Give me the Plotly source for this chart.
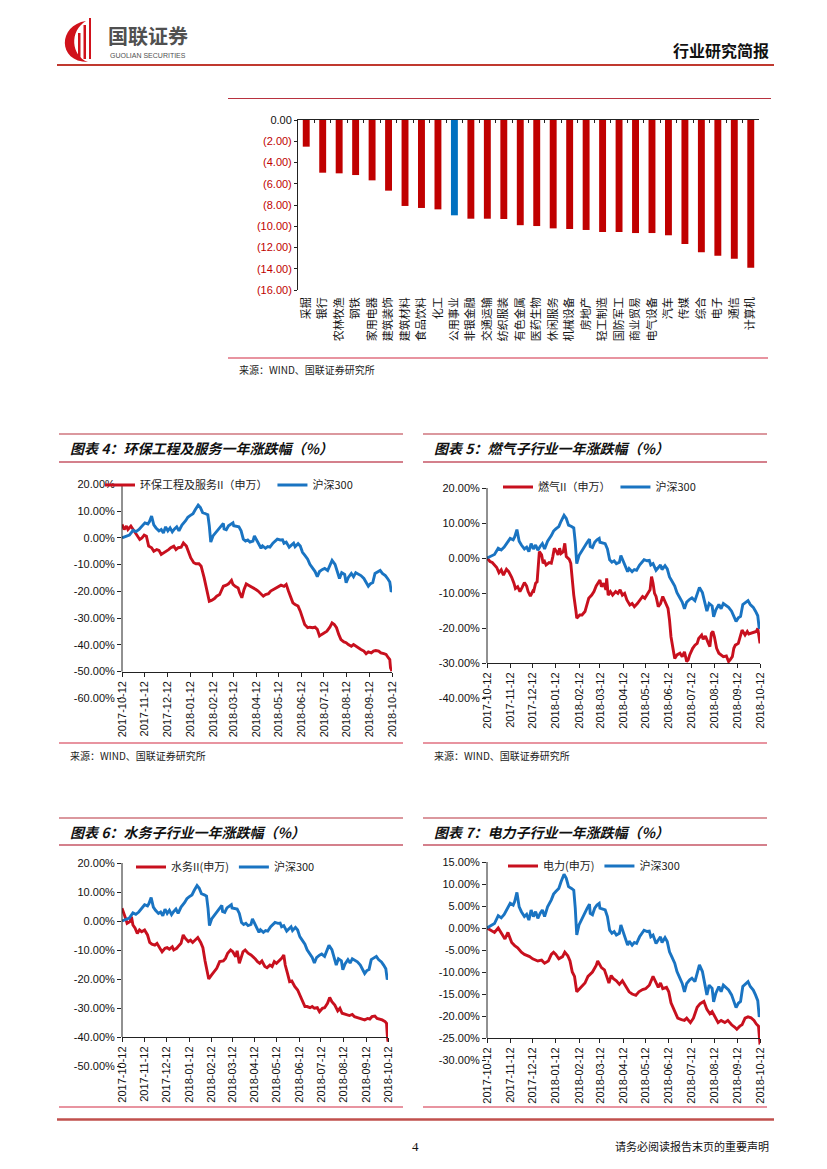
import plotly.graph_objects as go

W, H = 827, 1169
CJK = "Noto Sans CJK SC"
NUM = "Liberation Sans, Noto Sans CJK SC"
RED = "#C00000"
BLUE = "#0070C0"
LRED = "#C8101E"
LBLUE = "#1A74C2"

# ---------------- data: industry one-year change (bar chart) ----------------
IND_NAMES = ["采掘", "银行", "农林牧渔", "钢铁", "家用电器", "建筑装饰", "建筑材料", "食品饮料",
             "化工", "公用事业", "非银金融", "交通运输", "纺织服装", "有色金属", "医药生物", "休闲服务",
             "机械设备", "房地产", "轻工制造", "国防军工", "商业贸易", "电气设备", "汽车", "传媒",
             "综合", "电子", "通信", "计算机"]
IND_CHG = [-2.51, -4.96, -5.02, -5.18, -5.68, -6.65, -8.09, -8.28,
           -8.41, -8.97, -9.29, -9.29, -9.32, -9.90, -9.98, -10.20,
           -10.26, -10.35, -10.54, -10.54, -10.64, -10.64, -10.85, -11.67,
           -12.45, -12.77, -13.05, -13.90]
HIGHLIGHT = "公用事业"
BAR_TICKS = [0, -2, -4, -6, -8, -10, -12, -14, -16]

# ---------------- data: 沪深300 ----------------
HS300_DATES = (
    ["2017-10-12", "2017-10-18", "2017-10-22", "2017-10-27", "2017-10-31"] +
    ["2017-11-04", "2017-11-09", "2017-11-12", "2017-11-16", "2017-11-18", "2017-11-21", "2017-11-24", "2017-11-27"] +
    ["2017-12-01", "2017-12-04", "2017-12-07", "2017-12-10", "2017-12-13", "2017-12-16", "2017-12-19", "2017-12-22", "2017-12-25", "2017-12-28"] +
    ["2018-01-01", "2018-01-06", "2018-01-09", "2018-01-12", "2018-01-16", "2018-01-19", "2018-01-23", "2018-01-26", "2018-01-29"] +
    ["2018-02-02", "2018-02-05", "2018-02-07", "2018-02-09", "2018-02-12", "2018-02-15", "2018-02-20", "2018-02-23", "2018-02-26", "2018-02-27"] +
    ["2018-03-02", "2018-03-05", "2018-03-08", "2018-03-11", "2018-03-12", "2018-03-16", "2018-03-19", "2018-03-22", "2018-03-25", "2018-03-28", "2018-03-31"] +
    ["2018-04-03", "2018-04-07", "2018-04-09", "2018-04-12", "2018-04-16", "2018-04-18", "2018-04-20", "2018-04-24", "2018-04-27", "2018-04-30"] +
    ["2018-05-04", "2018-05-07", "2018-05-10", "2018-05-14", "2018-05-17", "2018-05-19", "2018-05-22", "2018-05-26", "2018-05-29"] +
    ["2018-06-01", "2018-06-03", "2018-06-07", "2018-06-10", "2018-06-13", "2018-06-16", "2018-06-20", "2018-06-23", "2018-06-26", "2018-06-30"] +
    ["2018-07-03", "2018-07-06", "2018-07-10", "2018-07-13", "2018-07-17", "2018-07-20", "2018-07-23", "2018-07-27", "2018-07-30"] +
    ["2018-08-02", "2018-08-05", "2018-08-09", "2018-08-11", "2018-08-14", "2018-08-18", "2018-08-21", "2018-08-24", "2018-08-28", "2018-08-31"] +
    ["2018-09-04", "2018-09-07", "2018-09-10", "2018-09-13", "2018-09-16", "2018-09-19", "2018-09-23", "2018-09-26", "2018-09-29"] +
    ["2018-10-03", "2018-10-06", "2018-10-09", "2018-10-11", "2018-10-12"])
HS300_VAL = (
    [0, 0.5, 1.0, 2.8, 2.3] +
    [3.1, 4.5, 5.6, 5.2, 6.0, 8.1, 4.8, 3.7] +
    [2.6, 3.1, 1.8, 4.1, 2.6, 3.7, 2.2, 3.3, 4.1, 2.6] +
    [4.8, 6.4, 7.7, 8.3, 9.0, 10.5, 12.2, 11.3, 9.4] +
    [9.0, 8.6, 4.5, -1.6, 0.7, 1.8, 3.3, 4.5, 5.4, 3.3] +
    [3.0, 4.5, 5.2, 5.6, 4.5, 4.3, 4.1, 2.6, -0.5, -1.2, -0.8] +
    [-1.6, -1.2, 0.7, -0.8, -2.7, -3.9, -3.0, -3.9, -3.3, -3.5] +
    [-2.0, -1.2, -0.5, -0.8, -0.7, -2.0, -1.6, -3.5, -2.7] +
    [-2.0, -3.3, -2.2, -3.1, -5.4, -6.5, -8.0, -9.9, -11.1, -12.6] +
    [-14.5, -12.6, -11.8, -11.4, -12.2, -10.3, -8.4, -9.9, -12.6] +
    [-15.2, -13.0, -13.7, -16.8, -14.8, -13.3, -14.5, -13.0, -13.7, -14.1] +
    [-15.2, -16.7, -18.1, -17.1, -16.7, -13.3, -12.6, -12.2, -13.3] +
    [-14.1, -15.2, -16.5, -20.2, -19.6])

# ---------------- data: 环保工程及服务II ----------------
HB_DATES = (
    ["2017-10-12", "2017-10-15", "2017-10-18", "2017-10-20", "2017-10-24", "2017-10-27", "2017-10-30"] +
    ["2017-11-02", "2017-11-05", "2017-11-08", "2017-11-11", "2017-11-14", "2017-11-17", "2017-11-21", "2017-11-24", "2017-11-28"] +
    ["2017-12-01", "2017-12-04", "2017-12-08", "2017-12-11", "2017-12-14", "2017-12-17", "2017-12-21", "2017-12-24", "2017-12-27", "2017-12-31"] +
    ["2018-01-03", "2018-01-07", "2018-01-10", "2018-01-13", "2018-01-17", "2018-01-20", "2018-01-24", "2018-01-27", "2018-01-31"] +
    ["2018-02-03", "2018-02-05", "2018-02-07", "2018-02-10", "2018-02-14", "2018-02-17", "2018-02-21", "2018-02-24", "2018-02-26"] +
    ["2018-03-02", "2018-03-05", "2018-03-09", "2018-03-11", "2018-03-14", "2018-03-18", "2018-03-20", "2018-03-23", "2018-03-26", "2018-03-29"] +
    ["2018-04-01", "2018-04-04", "2018-04-08", "2018-04-11", "2018-04-14", "2018-04-18", "2018-04-21", "2018-04-24", "2018-04-28"] +
    ["2018-05-01", "2018-05-05", "2018-05-08", "2018-05-11", "2018-05-15", "2018-05-19", "2018-05-22", "2018-05-25", "2018-05-28", "2018-05-31"] +
    ["2018-06-03", "2018-06-07", "2018-06-10", "2018-06-13", "2018-06-16", "2018-06-20", "2018-06-23", "2018-06-27", "2018-06-30"] +
    ["2018-07-03", "2018-07-06", "2018-07-09", "2018-07-13", "2018-07-16", "2018-07-20", "2018-07-23", "2018-07-26", "2018-07-29"] +
    ["2018-08-01", "2018-08-04", "2018-08-08", "2018-08-11", "2018-08-14", "2018-08-18", "2018-08-21", "2018-08-24", "2018-08-28", "2018-08-31"] +
    ["2018-09-04", "2018-09-07", "2018-09-10", "2018-09-14", "2018-09-17", "2018-09-20", "2018-09-24", "2018-09-27"] +
    ["2018-10-01", "2018-10-04", "2018-10-07", "2018-10-09", "2018-10-10", "2018-10-12"])
HB_VAL = (
    [5.0, 3.1, 4.4, 3.1, 4.4, 3.1, 1.9] +
    [0.6, -0.6, 0.0, 1.0, 0.6, -3.1, -3.7, -5.0, -4.4] +
    [-4.7, -6.2, -5.6, -5.0, -4.4, -3.7, -3.1, -4.4, -3.7, -3.5] +
    [-1.9, -3.1, -5.0, -7.5, -9.3, -9.7, -9.7, -10.6, -14.9] +
    [-18.7, -21.8, -23.7, -23.4, -22.7, -21.8, -21.2, -19.3, -18.1] +
    [-17.7, -17.2, -15.9, -17.4, -18.1, -18.7, -20.5, -22.4, -19.3, -17.2] +
    [-17.7, -18.1, -18.7, -19.3, -19.9, -21.2, -21.8, -21.2, -20.9] +
    [-19.9, -19.3, -18.7, -18.1, -17.7, -18.1, -17.4, -19.9, -21.8, -24.3] +
    [-24.9, -25.5, -27.4, -29.9, -32.4, -33.6, -33.4, -33.6, -33.4] +
    [-34.2, -36.7, -36.1, -35.5, -34.9, -33.4, -31.8, -32.4, -33.6] +
    [-36.1, -38.0, -38.9, -39.2, -39.9, -40.5, -39.9, -40.5, -41.1, -41.7] +
    [-42.3, -43.3, -42.6, -43.0, -42.3, -42.1, -42.3, -43.0] +
    [-43.3, -43.6, -44.8, -45.5, -48.6, -49.8])

# ---------------- data: 燃气II ----------------
RQ_DATES = (
    ["2017-10-12", "2017-10-16", "2017-10-19", "2017-10-22", "2017-10-25", "2017-10-28", "2017-10-31"] +
    ["2017-11-03", "2017-11-07", "2017-11-10", "2017-11-14", "2017-11-17", "2017-11-19", "2017-11-22", "2017-11-25", "2017-11-28"] +
    ["2017-12-01", "2017-12-04", "2017-12-06", "2017-12-09", "2017-12-12", "2017-12-13", "2017-12-16", "2017-12-18", "2017-12-19",
     "2017-12-21", "2017-12-24", "2017-12-26", "2017-12-28", "2017-12-30"] +
    ["2018-01-03", "2018-01-06", "2018-01-08", "2018-01-10", "2018-01-13", "2018-01-15", "2018-01-17", "2018-01-19", "2018-01-22",
     "2018-01-24", "2018-01-26", "2018-01-30"] +
    ["2018-02-01", "2018-02-03", "2018-02-05", "2018-02-08", "2018-02-09", "2018-02-13", "2018-02-16", "2018-02-20", "2018-02-22", "2018-02-25"] +
    ["2018-03-01", "2018-03-04", "2018-03-07", "2018-03-09", "2018-03-12", "2018-03-14", "2018-03-17", "2018-03-20", "2018-03-21",
     "2018-03-23", "2018-03-26", "2018-03-29"] +
    ["2018-04-02", "2018-04-05", "2018-04-08", "2018-04-11", "2018-04-14", "2018-04-17", "2018-04-21", "2018-04-24", "2018-04-27"] +
    ["2018-05-01", "2018-05-04", "2018-05-08", "2018-05-11", "2018-05-14", "2018-05-18", "2018-05-20", "2018-05-22", "2018-05-24",
     "2018-05-26", "2018-05-29"] +
    ["2018-06-01", "2018-06-04", "2018-06-08", "2018-06-11", "2018-06-13", "2018-06-15", "2018-06-18", "2018-06-20", "2018-06-23",
     "2018-06-27", "2018-06-30"] +
    ["2018-07-03", "2018-07-06", "2018-07-08", "2018-07-10", "2018-07-14", "2018-07-17", "2018-07-20", "2018-07-22", "2018-07-26",
     "2018-07-28", "2018-07-31"] +
    ["2018-08-04", "2018-08-06", "2018-08-08", "2018-08-10", "2018-08-12", "2018-08-15", "2018-08-18", "2018-08-21", "2018-08-24",
     "2018-08-28", "2018-08-31"] +
    ["2018-09-02", "2018-09-05", "2018-09-07", "2018-09-09", "2018-09-13", "2018-09-15", "2018-09-18", "2018-09-22", "2018-09-25",
     "2018-09-27", "2018-09-30"] +
    ["2018-10-04", "2018-10-07", "2018-10-09", "2018-10-11", "2018-10-12"])
RQ_VAL = (
    [0, -1.0, -1.3, -2.0, -2.7, -4.2, -3.4] +
    [-4.9, -3.2, -3.9, -5.5, -7.2, -8.7, -8.2, -9.6, -8.4] +
    [-7.0, -8.0, -9.6, -10.9, -9.6, -9.9, -7.2, -6.8, -4.4, 1.8, 0.9, -1.5, -1.0, -2.0] +
    [-1.3, -1.5, 0.4, 2.8, 1.8, 0.9, 2.8, 1.3, 1.8, 4.2, 0.4, -0.4] +
    [-1.5, -6.3, -10.6, -15.3, -17.2, -16.3, -16.3, -15.3, -13.4, -11.5] +
    [-10.6, -9.6, -8.0, -7.2, -6.3, -8.2, -7.2, -9.1, -5.8, -10.6, -9.6, -10.6] +
    [-9.6, -10.1, -9.1, -10.6, -10.1, -12.0, -13.4, -13.0, -13.9] +
    [-13.0, -12.0, -11.0, -11.5, -10.6, -9.1, -5.3, -7.2, -10.1, -11.0, -13.9] +
    [-13.0, -11.0, -13.0, -14.4, -17.7, -22.5, -26.3, -28.7, -27.7, -27.2, -28.2] +
    [-26.8, -29.6, -29.1, -27.7, -25.8, -24.9, -24.4, -23.0, -22.0, -23.2, -22.3] +
    [-24.4, -25.3, -21.5, -21.0, -22.5, -25.8, -27.2, -27.7, -28.2, -28.0, -29.6] +
    [-29.1, -28.2, -25.8, -24.9, -24.4, -22.5, -20.6, -22.0, -21.0, -21.7, -21.5] +
    [-21.3, -21.0, -20.1, -22.5, -24.4])

# ---------------- data: 水务II ----------------
SW_DATES = (
    ["2017-10-12", "2017-10-15", "2017-10-17", "2017-10-19", "2017-10-23", "2017-10-25", "2017-10-27", "2017-10-30"] +
    ["2017-11-02", "2017-11-05", "2017-11-08", "2017-11-12", "2017-11-16", "2017-11-19", "2017-11-22", "2017-11-26", "2017-11-29"] +
    ["2017-12-03", "2017-12-06", "2017-12-10", "2017-12-13", "2017-12-16", "2017-12-20", "2017-12-22", "2017-12-26", "2017-12-29"] +
    ["2018-01-01", "2018-01-04", "2018-01-07", "2018-01-11", "2018-01-14", "2018-01-17", "2018-01-21", "2018-01-24", "2018-01-28", "2018-01-31"] +
    ["2018-02-03", "2018-02-06", "2018-02-08", "2018-02-12", "2018-02-15", "2018-02-19", "2018-02-23", "2018-02-28"] +
    ["2018-03-03", "2018-03-06", "2018-03-10", "2018-03-13", "2018-03-17", "2018-03-19", "2018-03-22", "2018-03-25", "2018-03-27", "2018-03-30"] +
    ["2018-04-03", "2018-04-07", "2018-04-10", "2018-04-13", "2018-04-16", "2018-04-19", "2018-04-22", "2018-04-26", "2018-04-29"] +
    ["2018-05-03", "2018-05-06", "2018-05-09", "2018-05-12", "2018-05-15", "2018-05-19", "2018-05-22", "2018-05-24", "2018-05-27", "2018-05-30"] +
    ["2018-06-02", "2018-06-06", "2018-06-10", "2018-06-13", "2018-06-16", "2018-06-20", "2018-06-23", "2018-06-27", "2018-06-30"] +
    ["2018-07-03", "2018-07-07", "2018-07-10", "2018-07-14", "2018-07-17", "2018-07-21", "2018-07-24", "2018-07-27", "2018-07-31"] +
    ["2018-08-04", "2018-08-07", "2018-08-10", "2018-08-14", "2018-08-17", "2018-08-20", "2018-08-24", "2018-08-27", "2018-08-31"] +
    ["2018-09-03", "2018-09-06", "2018-09-10", "2018-09-14", "2018-09-17", "2018-09-20", "2018-09-24", "2018-09-27"] +
    ["2018-10-01", "2018-10-04", "2018-10-08", "2018-10-10", "2018-10-11", "2018-10-12"])
SW_VAL = (
    [4.4, 2.6, 0.9, -0.8, -0.2, 1.5, -1.4, -2.5] +
    [-4.3, -3.1, -3.7, -3.1, -4.8, -7.4, -8.0, -8.3, -7.7] +
    [-9.4, -10.6, -9.4, -9.2, -9.7, -8.9, -10.0, -9.4, -8.5] +
    [-7.7, -4.8, -6.0, -7.1, -6.6, -7.4, -6.6, -5.7, -7.4, -9.2] +
    [-13.8, -16.9, -20.0, -18.6, -17.5, -16.3, -14.0, -13.8] +
    [-12.9, -11.1, -10.0, -10.6, -12.3, -10.3, -14.6, -11.7, -10.6, -10.0] +
    [-11.1, -11.7, -12.3, -13.1, -14.0, -14.6, -13.8, -15.7, -16.1] +
    [-15.2, -15.7, -14.0, -14.6, -14.0, -12.9, -11.7, -15.2, -18.0, -20.9] +
    [-20.7, -22.6, -23.8, -25.5, -27.2, -29.5, -29.5, -29.9, -29.5] +
    [-30.1, -29.9, -31.3, -30.1, -29.9, -28.4, -26.4, -27.8, -29.0] +
    [-31.0, -30.1, -31.8, -32.2, -32.4, -32.6, -32.2, -33.0, -33.3] +
    [-33.6, -33.8, -34.1, -33.6, -33.8, -33.0, -32.8, -33.6] +
    [-33.8, -34.1, -34.7, -35.3, -39.3, -41.6])

# ---------------- data: 电力 ----------------
DL_DATES = (
    ["2017-10-12", "2017-10-22", "2017-10-27", "2017-10-31"] +
    ["2017-11-05", "2017-11-09", "2017-11-14", "2017-11-18", "2017-11-22", "2017-11-27"] +
    ["2017-12-01", "2017-12-08", "2017-12-12", "2017-12-19", "2017-12-24", "2017-12-28"] +
    ["2018-01-02", "2018-01-06", "2018-01-09", "2018-01-12", "2018-01-16", "2018-01-21", "2018-01-24", "2018-01-28", "2018-01-31"] +
    ["2018-02-03", "2018-02-06", "2018-02-09", "2018-02-14", "2018-02-20", "2018-02-24"] +
    ["2018-03-02", "2018-03-07", "2018-03-09", "2018-03-14", "2018-03-18", "2018-03-21", "2018-03-24", "2018-03-27", "2018-03-30"] +
    ["2018-04-03", "2018-04-07", "2018-04-11", "2018-04-15", "2018-04-20", "2018-04-24", "2018-04-29"] +
    ["2018-05-03", "2018-05-08", "2018-05-12", "2018-05-17", "2018-05-22", "2018-05-25", "2018-05-29"] +
    ["2018-06-01", "2018-06-04", "2018-06-09", "2018-06-12", "2018-06-15", "2018-06-20", "2018-06-24", "2018-06-29"] +
    ["2018-07-03", "2018-07-06", "2018-07-11", "2018-07-15", "2018-07-20", "2018-07-24", "2018-07-29"] +
    ["2018-08-02", "2018-08-06", "2018-08-09", "2018-08-12", "2018-08-17", "2018-08-21", "2018-08-26", "2018-08-30"] +
    ["2018-09-04", "2018-09-08", "2018-09-11", "2018-09-15", "2018-09-18", "2018-09-22", "2018-09-26", "2018-09-30"] +
    ["2018-10-04", "2018-10-07", "2018-10-10", "2018-10-12"])
DL_VAL = (
    [0, -1.0, 0.0, -1.0] +
    [-2.5, -1.0, -3.3, -4.0, -4.5, -5.5] +
    [-6.0, -6.5, -7.0, -7.5, -7.3, -8.0] +
    [-7.5, -6.0, -5.5, -6.0, -7.0, -6.5, -5.5, -6.3, -7.5] +
    [-10.0, -11.0, -14.5, -13.5, -12.5, -11.0] +
    [-10.0, -8.5, -7.5, -9.0, -9.5, -11.0, -12.5, -10.8, -11.5] +
    [-12.0, -12.8, -12.0, -13.0, -14.5, -15.0, -15.3] +
    [-14.5, -14.0, -13.8, -13.0, -11.0, -12.0, -13.5] +
    [-12.5, -13.8, -13.5, -14.5, -17.0, -19.0, -20.5, -20.8] +
    [-21.0, -20.5, -21.5, -20.5, -18.0, -17.2, -16.7] +
    [-18.5, -19.5, -19.0, -20.0, -21.5, -21.0, -21.5, -21.0] +
    [-22.0, -22.5, -23.0, -22.3, -22.0, -20.5, -20.2, -20.4] +
    [-21.0, -21.8, -22.3, -26.5])

DATE_START, DATE_END = "2017-10-12", "2018-10-12"
P4_TICKS = [20, 10, 0, -10, -20, -30, -40, -50, -60]
P5_TICKS = [20, 10, 0, -10, -20, -30, -40]
P6_TICKS = [20, 10, 0, -10, -20, -30, -40, -50]
P7_TICKS = [15, 10, 5, 0, -5, -10, -15, -20, -25, -30]


def fx(px):
    return px / W


def fy(py):
    return 1 - py / H


PANELS = [
    dict(dates=HB_DATES, vals=HB_VAL, name="环保工程及服务II（申万）", ticks=P4_TICKS, cross=-50,
         xd=(122, 392), yd=(484.3, 698.4), leg=(100, 485),
         title="图表 4：环保工程及服务一年涨跌幅（%）", frame=(59, 403), ty=(434, 448, 462), bottom=743, src=755),
    dict(dates=RQ_DATES, vals=RQ_VAL, name="燃气II（申万）", ticks=P5_TICKS, cross=-30,
         xd=(487, 760), yd=(488, 698), leg=(498, 487),
         title="图表 5：燃气子行业一年涨跌幅（%）", frame=(423, 767), ty=(434, 448, 462), bottom=743, src=755),
    dict(dates=SW_DATES, vals=SW_VAL, name="水务II(申万)", ticks=P6_TICKS, cross=-40,
         xd=(122, 388), yd=(863, 1066), leg=(131, 867),
         title="图表 6：水务子行业一年涨跌幅（%）", frame=(59, 403), ty=(818, 832, 845), bottom=1107, src=None),
    dict(dates=DL_DATES, vals=DL_VAL, name="电力(申万)", ticks=P7_TICKS, cross=-25,
         xd=(487, 760), yd=(862, 1060), leg=(503, 866),
         title="图表 7：电力子行业一年涨跌幅（%）", frame=(423, 767), ty=(818, 832, 845), bottom=1107, src=None),
]

fig = go.Figure()
layout = {}
shapes = []
annotations = []

# ---------------- bar chart ----------------
bar_colors = [BLUE if n == HIGHLIGHT else RED for n in IND_NAMES]
fig.add_trace(go.Bar(x=IND_NAMES, y=IND_CHG, marker=dict(color=bar_colors, line_width=0), width=0.42,
                     xaxis="x", yaxis="y", showlegend=False))
fig.add_trace(go.Bar(x=IND_NAMES, y=IND_CHG, marker=dict(color="rgba(0,0,0,0)", line_width=0), width=0.42,
                     xaxis="x2", yaxis="y", showlegend=False, hoverinfo="skip"))

bar_ticktext = ["0.00" if v == 0 else f"<span style='color:{RED}'>({abs(v):.2f})</span>" for v in BAR_TICKS]
bx = [fx(298), fx(759)]
layout["xaxis"] = dict(domain=bx, anchor="y", type="category", tickangle=-90, showline=False, ticks="",
                       showgrid=False, zeroline=False, automargin=False, ticklabelstandoff=4,
                       tickfont=dict(family=CJK, size=11, color="#111"))
layout["xaxis2"] = dict(overlaying="x", side="top", anchor="y", type="category", showline=True, linecolor="#222",
                        linewidth=1, ticks="inside", tickson="boundaries", ticklen=3, tickcolor="#222",
                        showticklabels=False, showgrid=False, zeroline=False, automargin=False)
layout["yaxis"] = dict(domain=[fy(290), fy(120)], anchor="x", range=[-16, 0], tickvals=BAR_TICKS,
                       ticktext=bar_ticktext, showline=True, linecolor="#222", linewidth=1, ticks="outside",
                       ticklen=3, tickcolor="#222", showgrid=False, zeroline=False, automargin=False,
                       tickfont=dict(family=NUM, size=11, color="#111"))

# ---------------- line charts ----------------
for i, p in enumerate(PANELS):
    n = i + 3
    xa, ya = f"x{n}", f"y{n}"
    leg_id = "legend" if i == 0 else f"legend{i + 1}"
    fig.add_trace(go.Scatter(x=p["dates"], y=p["vals"], name=p["name"], mode="lines",
                             line=dict(color=LRED, width=2.9), xaxis=xa, yaxis=ya, legend=leg_id))
    fig.add_trace(go.Scatter(x=HS300_DATES, y=HS300_VAL, name="沪深300", mode="lines",
                             line=dict(color=LBLUE, width=2.9), xaxis=xa, yaxis=ya, legend=leg_id))
    y0, y1 = min(p["ticks"]), max(p["ticks"])
    ydom = [fy(p["yd"][1]), fy(p["yd"][0])]
    pos = ydom[0] + (p["cross"] - y0) / (y1 - y0) * (ydom[1] - ydom[0])
    layout[f"xaxis{n}"] = dict(domain=[fx(p["xd"][0]), fx(p["xd"][1])], anchor="free", position=pos,
                               type="date", range=[DATE_START, DATE_END], tick0=DATE_START, dtick="M1",
                               tickformat="%Y-%m-%d", tickangle=-90, showline=True, linecolor="#222",
                               linewidth=1, ticks="outside", ticklen=4, tickcolor="#222", showgrid=False,
                               zeroline=False, automargin=False,
                               tickfont=dict(family=NUM, size=11, color="#111"))
    layout[f"yaxis{n}"] = dict(domain=ydom, anchor=xa, range=[y0, y1], tickvals=p["ticks"],
                               ticktext=[f"{v:.2f}%" for v in p["ticks"]], showline=False, ticks="outside",
                               ticklen=4, tickcolor="#222", showgrid=False, zeroline=False, automargin=False,
                               tickfont=dict(family=NUM, size=11, color="#111"))
    shapes.append(dict(type="line", xref=f"{xa} domain", x0=0, x1=0, yref=ya, y0=p["cross"], y1=y1,
                       line=dict(color="#222", width=1)))
    layout[leg_id] = dict(orientation="h", x=fx(p["leg"][0]), y=fy(p["leg"][1]), xanchor="left",
                          yanchor="middle", font=dict(family=CJK, size=11, color="#222"),
                          bgcolor="rgba(0,0,0,0)", borderwidth=0, itemwidth=30, tracegroupgap=0)
    # frame lines and texts
    fa, fb = p["frame"]
    shapes.append(dict(type="line", xref="paper", yref="paper", x0=fx(fa), x1=fx(fb), y0=fy(p["ty"][0]),
                       y1=fy(p["ty"][0]), line=dict(color="#B8323F", width=1.2)))
    shapes.append(dict(type="line", xref="paper", yref="paper", x0=fx(fa), x1=fx(fb), y0=fy(p["ty"][2]),
                       y1=fy(p["ty"][2]), line=dict(color="#D4808C", width=2)))
    shapes.append(dict(type="line", xref="paper", yref="paper", x0=fx(fa), x1=fx(fb), y0=fy(p["bottom"]),
                       y1=fy(p["bottom"]), line=dict(color="#E07080", width=1.5)))
    annotations.append(dict(xref="paper", yref="paper", x=fx(fa + 9), y=fy(p["ty"][1]), xanchor="left",
                            yanchor="middle", showarrow=False, text=f"<b><i>{p['title']}</i></b>",
                            font=dict(family=CJK, size=14, color="#111")))
    if p["src"]:
        annotations.append(dict(xref="paper", yref="paper", x=fx(fa + 9), y=fy(p["src"]), xanchor="left",
                                yanchor="middle", showarrow=False, text="来源：WIND、国联证券研究所",
                                font=dict(family=CJK, size=10, color="#222")))

# ---------------- page decoration ----------------
shapes += [
    dict(type="line", xref="paper", yref="paper", x0=fx(57), x1=fx(774), y0=fy(65), y1=fy(65),
         line=dict(color="#C0392F", width=2.2)),
    dict(type="line", xref="paper", yref="paper", x0=fx(228), x1=fx(771), y0=fy(98.5), y1=fy(98.5),
         line=dict(color="#B8323F", width=1.2)),
    dict(type="line", xref="paper", yref="paper", x0=fx(228), x1=fx(768), y0=fy(358), y1=fy(358),
         line=dict(color="#E07080", width=1.5)),
    dict(type="line", xref="paper", yref="paper", x0=fx(57), x1=fx(774), y0=fy(1119.5), y1=fy(1119.5),
         line=dict(color="#C0504D", width=2.6)),
]
crescent = (f"M {fx(86)},{fy(21)} C {fx(58)},{fy(25)} {fx(57)},{fy(62)} {fx(88)},{fy(62)} "
            f"C {fx(71)},{fy(56)} {fx(69)},{fy(31)} {fx(86)},{fy(21)} Z")
shapes += [
    dict(type="path", xref="paper", yref="paper", path=crescent, fillcolor="#D0121B", line=dict(width=0)),
    dict(type="rect", xref="paper", yref="paper", x0=fx(78), x1=fx(80.5), y0=fy(58), y1=fy(33),
         fillcolor="#D0121B", line=dict(width=0)),
    dict(type="rect", xref="paper", yref="paper", x0=fx(83.5), x1=fx(86), y0=fy(59), y1=fy(25),
         fillcolor="#D0121B", line=dict(width=0)),
    dict(type="rect", xref="paper", yref="paper", x0=fx(89), x1=fx(91), y0=fy(59), y1=fy(18),
         fillcolor="#D0121B", line=dict(width=0)),
]
annotations += [
    dict(xref="paper", yref="paper", x=fx(106), y=fy(36), xanchor="left", yanchor="middle", showarrow=False,
         text="<b>国联证券</b>", font=dict(family=CJK, size=20, color="#505050")),
    dict(xref="paper", yref="paper", x=fx(108), y=fy(55.5), xanchor="left", yanchor="middle", showarrow=False,
         text="GUOLIAN SECURITIES", font=dict(family="Liberation Sans", size=7, color="#505050")),
    dict(xref="paper", yref="paper", x=fx(771), y=fy(50), xanchor="right", yanchor="middle", showarrow=False,
         text="<b>行业研究简报</b>", font=dict(family=CJK, size=16, color="#111")),
    dict(xref="paper", yref="paper", x=fx(237), y=fy(369), xanchor="left", yanchor="middle", showarrow=False,
         text="来源：WIND、国联证券研究所", font=dict(family=CJK, size=10, color="#222")),
    dict(xref="paper", yref="paper", x=fx(415), y=fy(1146), xanchor="center", yanchor="middle", showarrow=False,
         text="4", font=dict(family="Liberation Serif", size=13, color="#111")),
    dict(xref="paper", yref="paper", x=fx(771), y=fy(1146), xanchor="right", yanchor="middle", showarrow=False,
         text="请务必阅读报告末页的重要声明", font=dict(family=CJK, size=11, color="#111")),
]

fig.update_layout(**layout)
fig.update_layout(width=W, height=H, margin=dict(l=0, r=0, t=0, b=0), paper_bgcolor="white",
                  plot_bgcolor="rgba(0,0,0,0)", shapes=shapes, annotations=annotations,
                  showlegend=True, hovermode=False, font=dict(family=CJK))

fig.write_html("out.html", include_plotlyjs=True, config={"displayModeBar": False},
               post_script="document.body.style.margin='0px';document.body.style.overflow='hidden';")
